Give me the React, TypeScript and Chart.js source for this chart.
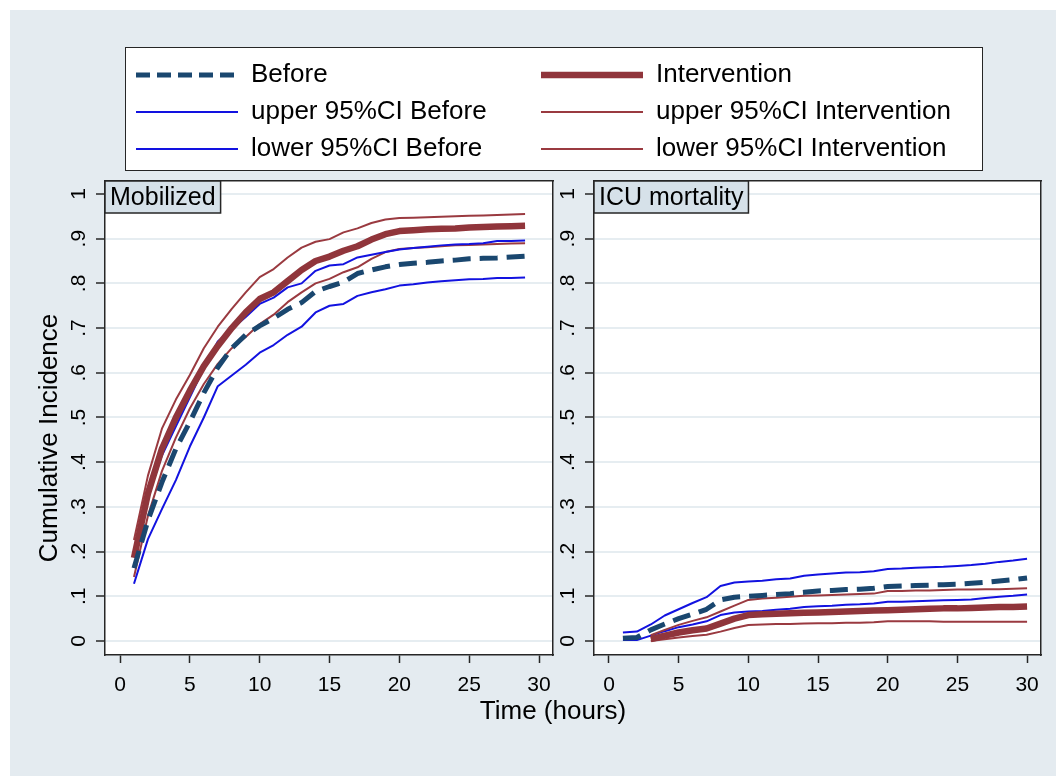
import React, { useEffect, useRef } from 'react';
import { Chart, registerables } from 'chart.js';

Chart.register(...registerables);

const FONT = "'Liberation Sans', Arial, Helvetica, sans-serif";

// ---------------- data ----------------
const T_MOB = [1, 2, 3, 4, 5, 6, 7, 8, 9, 10, 11, 12, 13, 14, 15, 16, 17, 18, 19, 20, 21, 22, 23, 24, 25, 26, 27, 28, 29];

const MOB_BEFORE = [0.163, 0.27, 0.355, 0.43, 0.49, 0.555, 0.612, 0.655, 0.685, 0.705, 0.722, 0.742, 0.757, 0.782, 0.793, 0.803, 0.822, 0.83, 0.837, 0.842, 0.845, 0.847, 0.85, 0.852, 0.855, 0.856, 0.857, 0.859, 0.861];
const MOB_BEFORE_UP = [0.197, 0.325, 0.415, 0.48, 0.545, 0.61, 0.67, 0.698, 0.725, 0.754, 0.768, 0.791, 0.8, 0.828, 0.84, 0.843, 0.858, 0.864, 0.87, 0.876, 0.879, 0.882, 0.885, 0.887, 0.888, 0.89, 0.895, 0.895, 0.896];
const MOB_BEFORE_LO = [0.128, 0.228, 0.295, 0.36, 0.435, 0.5, 0.57, 0.594, 0.618, 0.645, 0.662, 0.685, 0.703, 0.735, 0.75, 0.754, 0.772, 0.78, 0.787, 0.795, 0.798, 0.802, 0.805, 0.807, 0.809, 0.81, 0.812, 0.812, 0.813];
const MOB_INT = [0.186, 0.33, 0.43, 0.5, 0.56, 0.615, 0.66, 0.7, 0.735, 0.765, 0.78, 0.805, 0.83, 0.85, 0.86, 0.873, 0.883, 0.898, 0.91, 0.917, 0.919, 0.921, 0.922, 0.923, 0.925, 0.926, 0.927, 0.928, 0.929];
const MOB_INT_UP = [0.226, 0.37, 0.475, 0.54, 0.595, 0.655, 0.703, 0.743, 0.78, 0.814, 0.832, 0.858, 0.88, 0.893, 0.899, 0.914, 0.923, 0.935, 0.943, 0.946, 0.947, 0.948, 0.949, 0.95, 0.951, 0.952, 0.953, 0.954, 0.955];
const MOB_INT_LO = [0.143, 0.28, 0.38, 0.455, 0.52, 0.575, 0.62, 0.655, 0.68, 0.709, 0.73, 0.758, 0.78, 0.8, 0.81, 0.825, 0.836, 0.855, 0.87, 0.877, 0.879, 0.881, 0.883, 0.885, 0.886, 0.887, 0.888, 0.889, 0.89];

const T_ICU_BEFORE = [1, 2, 3, 4, 5, 6, 7, 8, 9, 10, 11, 12, 13, 14, 15, 16, 17, 18, 19, 20, 21, 22, 23, 24, 25, 26, 27, 28, 29, 30];
const T_ICU_INT = [3, 4, 5, 6, 7, 8, 9, 10, 11, 12, 13, 14, 15, 16, 17, 18, 19, 20, 21, 22, 23, 24, 25, 26, 27, 28, 29, 30];

const ICU_BEFORE = [0.006, 0.008, 0.025, 0.038, 0.05, 0.06, 0.071, 0.092, 0.098, 0.1, 0.102, 0.104, 0.106, 0.109, 0.112, 0.113, 0.115, 0.116, 0.118, 0.122, 0.123, 0.124, 0.125, 0.126, 0.127, 0.129, 0.131, 0.134, 0.137, 0.141];
const ICU_BEFORE_UP = [0.019, 0.021, 0.037, 0.057, 0.071, 0.085, 0.098, 0.123, 0.131, 0.133, 0.135, 0.138, 0.14, 0.146, 0.149, 0.151, 0.153, 0.154, 0.156, 0.161, 0.162, 0.164, 0.165, 0.166, 0.168, 0.17, 0.173, 0.177, 0.18, 0.184];
const ICU_BEFORE_LO = [0.002, 0.002, 0.012, 0.022, 0.031, 0.037, 0.044, 0.058, 0.064, 0.066, 0.067, 0.07, 0.072, 0.076, 0.078, 0.079, 0.081, 0.082, 0.084, 0.088, 0.088, 0.089, 0.09, 0.091, 0.092, 0.093, 0.096, 0.099, 0.101, 0.104];
const ICU_INT = [0.004, 0.012, 0.019, 0.024, 0.028, 0.039, 0.05, 0.058, 0.06, 0.061, 0.062, 0.063, 0.064, 0.065, 0.066, 0.067, 0.068, 0.069, 0.07, 0.071, 0.072, 0.073, 0.073, 0.074, 0.075, 0.076, 0.076, 0.077];
const ICU_INT_UP = [0.013, 0.025, 0.036, 0.045, 0.053, 0.066, 0.079, 0.092, 0.095, 0.097, 0.099, 0.101, 0.102, 0.103, 0.104, 0.105, 0.106, 0.112, 0.112, 0.113, 0.113, 0.114, 0.115, 0.115, 0.116, 0.116, 0.117, 0.118];
const ICU_INT_LO = [0.0, 0.004, 0.008, 0.011, 0.014, 0.021, 0.029, 0.036, 0.037, 0.038, 0.038, 0.039, 0.04, 0.04, 0.041, 0.041, 0.042, 0.044, 0.044, 0.044, 0.044, 0.043, 0.043, 0.043, 0.043, 0.043, 0.043, 0.043];

const X_TICKS = [0, 5, 10, 15, 20, 25, 30];
const Y_TICKS = [0, 0.1, 0.2, 0.3, 0.4, 0.5, 0.6, 0.7, 0.8, 0.9, 1];
const Y_TICK_LABELS = ['0', '.1', '.2', '.3', '.4', '.5', '.6', '.7', '.8', '.9', '1'];

const SERIES_LABELS = ['Before', 'upper 95%CI Before', 'lower 95%CI Before', 'Intervention', 'upper 95%CI Intervention', 'lower 95%CI Intervention'];
const PANEL_TITLES = ['Mobilized', 'ICU mortality'];
const X_TITLE = 'Time (hours)';
const Y_TITLE = 'Cumulative Incidence';

// ---------------- styles ----------------
const BG = '#e4ebf0';
const STRIP = '#d6e1e9';
const FRAME = '#262626';
const GRID = '#e6edf1';
const NAVY = '#1a476f';
const BLUE = '#1212e0';
const MAROON = '#90353b';
const MAROON_T = '#9a3a40';

const SERIES_STYLE = [
  { color: NAVY, width: 5, dash: [18, 9], legendDash: [14, 7] },
  { color: BLUE, width: 2, dash: [], legendDash: [] },
  { color: BLUE, width: 2, dash: [], legendDash: [] },
  { color: MAROON, width: 6.5, dash: [], legendDash: [] },
  { color: MAROON_T, width: 2, dash: [], legendDash: [] },
  { color: MAROON_T, width: 2, dash: [], legendDash: [] },
];
// Stata plotting order: Before, Intervention, upper B, upper I, lower B, lower I
const PLOT_ORDER = [0, 3, 1, 4, 2, 5];

const X_MIN = -1.075;
const X_MAX = 31.0;
const Y_MIN = -0.0313;
const Y_MAX = 1.029;

function makeDataset(idx: number, t: number[], v: number[]) {
  const st = SERIES_STYLE[idx];
  return {
    label: SERIES_LABELS[idx],
    data: t.map((x, i) => ({ x, y: v[i] })),
    borderColor: st.color,
    backgroundColor: st.color,
    borderWidth: st.width,
    borderDash: st.dash,
    borderCapStyle: 'butt',
    borderJoinStyle: 'round',
    pointRadius: 0,
    pointHoverRadius: 0,
    tension: 0,
    fill: false,
  };
}

function makePanelPlugin(title: string, showYTitle: boolean, showXTitle: boolean) {
  return {
    id: 'panelDecor',
    beforeDraw(chart: any) {
      const { ctx, chartArea: a } = chart;
      ctx.save();
      ctx.fillStyle = '#ffffff';
      ctx.fillRect(a.left, a.top, a.right - a.left, a.bottom - a.top);
      ctx.restore();
    },
    afterDraw(chart: any) {
      const { ctx, chartArea: a } = chart;
      const ys = chart.scales.y;
      ctx.save();
      // rotated y tick labels
      ctx.font = `21px ${FONT}`;
      ctx.fillStyle = '#000';
      ctx.textAlign = 'center';
      ctx.textBaseline = 'middle';
      Y_TICKS.forEach((v, i) => {
        const py = ys.getPixelForValue(v);
        ctx.save();
        ctx.translate(a.left - 26, py);
        ctx.rotate(-Math.PI / 2);
        ctx.fillText(Y_TICK_LABELS[i], 0, 0);
        ctx.restore();
      });
      // strip title
      ctx.font = `25px ${FONT}`;
      const tw = ctx.measureText(title).width;
      const bw = tw + 10;
      const bh = 32;
      ctx.fillStyle = STRIP;
      ctx.fillRect(a.left, a.top, bw, bh);
      ctx.strokeStyle = FRAME;
      ctx.lineWidth = 1.5;
      ctx.strokeRect(a.left, a.top, bw, bh);
      ctx.fillStyle = '#000';
      ctx.textAlign = 'left';
      ctx.fillText(title, a.left + 5, a.top + bh / 2 + 1);
      // axis titles
      ctx.font = `26px ${FONT}`;
      ctx.textAlign = 'center';
      if (showYTitle) {
        ctx.save();
        ctx.translate(a.left - 55, (a.top + a.bottom) / 2 + 20);
        ctx.rotate(-Math.PI / 2);
        ctx.fillText(Y_TITLE, 0, 0);
        ctx.restore();
      }
      if (showXTitle) {
        ctx.fillText(X_TITLE, a.right, a.bottom + 57);
      }
      ctx.restore();
    },
  };
}

function panelConfig(opts: {
  datasets: any[];
  title: string;
  yW: number;
  rightW: number;
  topH: number;
  bottomH: number;
  showYTitle: boolean;
  showXTitle: boolean;
}) {
  const { datasets, title, yW, rightW, topH, bottomH, showYTitle, showXTitle } = opts;
  return {
    type: 'line',
    data: { datasets },
    options: {
      responsive: false,
      maintainAspectRatio: false,
      animation: false,
      events: [],
      layout: { padding: 0 },
      plugins: {
        legend: { display: false },
        tooltip: { enabled: false },
        title: { display: false },
      },
      scales: {
        x: {
          type: 'linear',
          position: 'bottom',
          min: X_MIN,
          max: X_MAX,
          afterBuildTicks: (s: any) => {
            s.ticks = X_TICKS.map((v) => ({ value: v }));
          },
          afterFit: (s: any) => {
            s.height = bottomH;
          },
          ticks: {
            autoSkip: false,
            maxRotation: 0,
            minRotation: 0,
            padding: 10,
            color: '#000',
            font: { family: FONT, size: 21 },
            callback: (v: any) => String(v),
          },
          grid: {
            display: true,
            drawOnChartArea: false,
            drawTicks: true,
            tickLength: 8,
            tickColor: FRAME,
            tickWidth: 1.5,
          },
          border: { display: true, color: FRAME, width: 1.5 },
        },
        y: {
          type: 'linear',
          position: 'left',
          min: Y_MIN,
          max: Y_MAX,
          afterBuildTicks: (s: any) => {
            s.ticks = Y_TICKS.map((v) => ({ value: v }));
          },
          afterFit: (s: any) => {
            s.width = yW;
          },
          ticks: { display: false },
          grid: {
            display: true,
            drawOnChartArea: true,
            color: GRID,
            lineWidth: 2,
            drawTicks: true,
            tickLength: 9,
            tickColor: FRAME,
            tickWidth: 1.5,
          },
          border: { display: true, color: FRAME, width: 1.5 },
        },
        xT: {
          type: 'linear',
          axis: 'x',
          position: 'top',
          display: true,
          ticks: { display: false },
          grid: { display: false, drawTicks: false },
          border: { display: true, color: FRAME, width: 1.5 },
          afterFit: (s: any) => {
            s.height = topH;
          },
        },
        yR: {
          type: 'linear',
          axis: 'y',
          position: 'right',
          display: true,
          ticks: { display: false },
          grid: { display: false, drawTicks: false },
          border: { display: true, color: FRAME, width: 1.5 },
          afterFit: (s: any) => {
            s.width = rightW;
          },
        },
      },
    },
    plugins: [makePanelPlugin(title, showYTitle, showXTitle)],
  };
}

function legendConfig(indices: number[]) {
  return {
    type: 'line',
    data: { datasets: [] },
    options: {
      responsive: false,
      maintainAspectRatio: false,
      animation: false,
      events: [],
      layout: { padding: { top: 4, left: 0, right: 0, bottom: 0 } },
      scales: { x: { display: false }, y: { display: false } },
      plugins: {
        tooltip: { enabled: false },
        legend: {
          display: true,
          position: 'top',
          align: 'start',
          labels: {
            usePointStyle: true,
            pointStyleWidth: 102,
            padding: 11,
            color: '#000',
            font: { family: FONT, size: 26 },
            generateLabels: () =>
              indices.map((i) => ({
                text: SERIES_LABELS[i],
                fillStyle: SERIES_STYLE[i].color,
                strokeStyle: SERIES_STYLE[i].color,
                lineWidth: SERIES_STYLE[i].width,
                lineDash: SERIES_STYLE[i].legendDash,
                lineCap: 'butt',
                pointStyle: 'line',
                hidden: false,
                datasetIndex: i,
                fontColor: '#000',
              })),
          },
        },
      },
    },
  };
}

export default function App() {
  const leftRef = useRef<HTMLCanvasElement>(null);
  const rightRef = useRef<HTMLCanvasElement>(null);
  const leg1Ref = useRef<HTMLCanvasElement>(null);
  const leg2Ref = useRef<HTMLCanvasElement>(null);

  useEffect(() => {
    const mobSeries: [number[], number[]][] = [
      [T_MOB, MOB_BEFORE],
      [T_MOB, MOB_BEFORE_UP],
      [T_MOB, MOB_BEFORE_LO],
      [T_MOB, MOB_INT],
      [T_MOB, MOB_INT_UP],
      [T_MOB, MOB_INT_LO],
    ];
    const icuSeries: [number[], number[]][] = [
      [T_ICU_BEFORE, ICU_BEFORE],
      [T_ICU_BEFORE, ICU_BEFORE_UP],
      [T_ICU_BEFORE, ICU_BEFORE_LO],
      [T_ICU_INT, ICU_INT],
      [T_ICU_INT, ICU_INT_UP],
      [T_ICU_INT, ICU_INT_LO],
    ];
    const mobSets = PLOT_ORDER.map((i) => makeDataset(i, mobSeries[i][0], mobSeries[i][1]));
    const icuSets = PLOT_ORDER.map((i) => makeDataset(i, icuSeries[i][0], icuSeries[i][1]));

    const charts: Chart[] = [];
    charts.push(
      new Chart(leftRef.current as HTMLCanvasElement, panelConfig({
        datasets: mobSets,
        title: PANEL_TITLES[0],
        yW: 105,
        rightW: 640 - 553,
        topH: 181,
        bottomH: 776 - 655,
        showYTitle: true,
        showXTitle: true,
      }) as any)
    );
    charts.push(
      new Chart(rightRef.current as HTMLCanvasElement, panelConfig({
        datasets: icuSets,
        title: PANEL_TITLES[1],
        yW: 594 - 550,
        rightW: 1056 - 1041,
        topH: 181,
        bottomH: 776 - 655,
        showYTitle: false,
        showXTitle: false,
      }) as any)
    );
    charts.push(new Chart(leg1Ref.current as HTMLCanvasElement, legendConfig([0, 1, 2]) as any));
    charts.push(new Chart(leg2Ref.current as HTMLCanvasElement, legendConfig([3, 4, 5]) as any));
    return () => {
      charts.forEach((c) => c.destroy());
    };
  }, []);

  return (
    <div style={{ position: 'fixed', left: 0, top: 0, width: 1056, height: 776, background: '#ffffff', overflow: 'hidden' }}>
      <div style={{ position: 'absolute', left: 10, top: 10, width: 1046, height: 766, background: BG }} />
      <div
        style={{
          position: 'absolute',
          left: 125,
          top: 47,
          width: 858,
          height: 124,
          background: '#ffffff',
          border: `1.5px solid ${FRAME}`,
          boxSizing: 'border-box',
        }}
      />
      <canvas ref={leftRef} width={640} height={776} style={{ position: 'absolute', left: 0, top: 0 }} />
      <canvas ref={rightRef} width={506} height={776} style={{ position: 'absolute', left: 550, top: 0 }} />
      <canvas ref={leg1Ref} width={400} height={280} style={{ position: 'absolute', left: 125, top: 47 }} />
      <canvas ref={leg2Ref} width={440} height={280} style={{ position: 'absolute', left: 530, top: 47 }} />
    </div>
  );
}
